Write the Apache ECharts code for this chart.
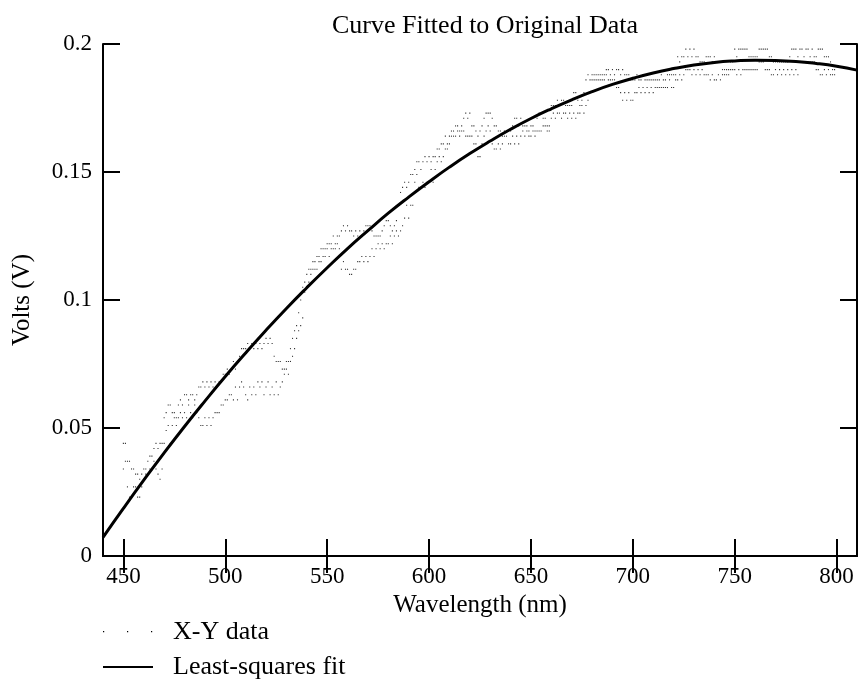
<!DOCTYPE html>
<html>
<head>
<meta charset="utf-8">
<script src="https://cdn.jsdelivr.net/npm/echarts@6/dist/echarts.min.js"></script>
<style>
html, body { margin: 0; padding: 0; background: #fff; }
#chart { width: 863px; height: 689px; }
</style>
</head>
<body>
<div id="chart"></div>
<script>
// measured samples, one per nm starting at firstNm
var firstNm = 450;
var voltsUp = [
	0.044,0.044,0.037,0.037,0.034,0.034,0.032,0.032,0.030,0.032,
	0.034,0.034,0.037,0.039,0.039,0.042,0.044,0.042,0.044,0.044,
	0.054,0.056,0.059,0.059,0.056,0.056,0.054,0.059,0.061,0.059,
	0.063,0.063,0.061,0.063,0.063,0.061,0.063,0.066,0.066,0.068,
	0.066,0.068,0.066,0.068,0.066,0.068,0.066,0.068,0.068,0.071,
	0.071,0.073,0.071,0.073,0.076,0.073,0.076,0.078,0.081,0.081,
	0.081,0.083,0.081,0.083,0.081,0.083,0.081,0.083,0.081,0.083,
	0.085,0.083,0.085,0.083,0.078,0.076,0.076,0.076,0.073,0.073,
	0.076,0.076,0.081,0.085,0.088,0.090,0.095,0.100,0.105,0.107,
	0.110,0.112,0.112,0.115,0.115,0.117,0.117,0.120,0.120,0.120,
	0.122,0.122,0.122,0.125,0.122,0.125,0.125,0.127,0.129,0.127,
	0.129,0.127,0.127,0.125,0.127,0.125,0.127,0.125,0.127,0.129,
	0.129,0.129,0.127,0.125,0.125,0.125,0.125,0.127,0.129,0.131,
	0.131,0.129,0.127,0.129,0.131,0.137,0.142,0.144,0.146,0.144,
	0.146,0.149,0.149,0.151,0.154,0.154,0.151,0.154,0.156,0.154,
	0.156,0.154,0.156,0.156,0.159,0.159,0.161,0.161,0.164,0.161,
	0.164,0.166,0.166,0.168,0.168,0.166,0.168,0.171,0.173,0.171,
	0.173,0.168,0.168,0.166,0.164,0.166,0.168,0.171,0.173,0.173,
	0.173,0.171,0.168,0.168,0.166,0.166,0.164,0.166,0.166,0.166,
	0.166,0.168,0.171,0.171,0.168,0.171,0.168,0.168,0.168,0.166,
	0.168,0.168,0.166,0.171,0.173,0.173,0.171,0.171,0.168,0.168,
	0.176,0.176,0.176,0.178,0.176,0.178,0.178,0.176,0.176,0.176,
	0.176,0.181,0.181,0.178,0.176,0.178,0.181,0.186,0.188,0.186,
	0.188,0.186,0.188,0.188,0.186,0.188,0.188,0.190,0.190,0.188,
	0.190,0.188,0.190,0.190,0.188,0.190,0.188,0.188,0.188,0.186,
	0.186,0.186,0.188,0.186,0.186,0.188,0.186,0.186,0.186,0.186,
	0.186,0.186,0.186,0.186,0.188,0.186,0.186,0.188,0.188,0.188,
	0.188,0.188,0.195,0.193,0.195,0.195,0.198,0.195,0.198,0.195,
	0.198,0.195,0.195,0.193,0.193,0.193,0.195,0.195,0.195,0.193,
	0.195,0.193,0.193,0.193,0.190,0.190,0.190,0.190,0.193,0.193,
	0.198,0.195,0.198,0.198,0.198,0.198,0.198,0.195,0.195,0.195,
	0.195,0.195,0.198,0.198,0.198,0.198,0.198,0.195,0.195,0.193,
	0.193,0.193,0.193,0.193,0.193,0.193,0.193,0.195,0.198,0.198,
	0.198,0.195,0.198,0.198,0.195,0.198,0.198,0.195,0.198,0.195,
	0.195,0.198,0.198,0.198,0.195,0.195,0.195,0.193,0.190,0.190
];
var voltsDown = [
	0.034,0.037,0.027,0.023,0.023,0.027,0.027,0.023,0.023,0.027,
	0.030,0.032,0.032,0.034,0.034,0.037,0.034,0.032,0.030,0.034,
	0.044,0.049,0.051,0.044,0.051,0.054,0.051,0.054,0.056,0.054,
	0.056,0.054,0.059,0.056,0.054,0.059,0.056,0.054,0.051,0.051,
	0.054,0.051,0.054,0.051,0.054,0.056,0.056,0.056,0.059,0.059,
	0.061,0.061,0.063,0.063,0.061,0.066,0.061,0.066,0.068,0.066,
	0.063,0.061,0.066,0.063,0.066,0.063,0.068,0.066,0.068,0.063,
	0.066,0.068,0.063,0.066,0.063,0.068,0.063,0.066,0.068,0.071,
	0.073,0.071,0.076,0.078,0.081,0.085,0.088,0.090,0.093,0.103,
	0.105,0.107,0.110,0.112,0.112,0.112,0.115,0.115,0.117,0.117,
	0.120,0.117,0.120,0.120,0.120,0.122,0.120,0.112,0.115,0.112,
	0.112,0.110,0.110,0.112,0.112,0.115,0.115,0.117,0.115,0.117,
	0.115,0.117,0.120,0.117,0.120,0.122,0.120,0.122,0.120,0.122,
	0.122,0.125,0.122,0.125,0.127,0.125,0.127,0.129,0.132,0.137,
	0.132,0.137,0.137,0.146,0.149,0.144,0.144,0.146,0.144,0.146,
	0.146,0.151,0.146,0.151,0.154,0.156,0.154,0.156,0.159,0.159,
	0.161,0.164,0.164,0.164,0.166,0.164,0.166,0.166,0.164,0.164,
	0.164,0.164,0.161,0.161,0.156,0.156,0.161,0.164,0.166,0.168,
	0.166,0.161,0.159,0.159,0.161,0.159,0.161,0.164,0.164,0.161,
	0.161,0.164,0.161,0.164,0.161,0.164,0.166,0.164,0.166,0.164,
	0.164,0.166,0.164,0.166,0.166,0.166,0.168,0.168,0.166,0.166,
	0.171,0.173,0.171,0.173,0.173,0.171,0.173,0.173,0.171,0.173,
	0.171,0.173,0.171,0.173,0.173,0.176,0.173,0.176,0.178,0.181,
	0.186,0.188,0.186,0.186,0.188,0.186,0.186,0.188,0.186,0.186,
	0.186,0.186,0.183,0.183,0.181,0.178,0.181,0.178,0.181,0.178,
	0.178,0.181,0.181,0.183,0.181,0.183,0.181,0.183,0.181,0.183,
	0.181,0.183,0.183,0.183,0.183,0.183,0.183,0.183,0.186,0.183,
	0.183,0.186,0.186,0.188,0.186,0.188,0.190,0.190,0.190,0.188,
	0.190,0.188,0.190,0.188,0.190,0.188,0.188,0.188,0.186,0.188,
	0.186,0.186,0.188,0.186,0.188,0.188,0.188,0.188,0.190,0.190,
	0.190,0.188,0.190,0.188,0.190,0.190,0.190,0.190,0.190,0.190,
	0.190,0.190,0.193,0.193,0.193,0.190,0.190,0.190,0.188,0.188,
	0.190,0.188,0.190,0.188,0.190,0.188,0.190,0.188,0.190,0.188,
	0.190,0.188,0.193,0.193,0.193,0.193,0.193,0.193,0.193,0.193,
	0.190,0.190,0.188,0.188,0.190,0.188,0.190,0.188,0.188,0.188
];

// least-squares fit, read every 10 nm
var fitNm = [440,450,460,470,480,490,500,510,520,530,540,550,560,570,580,590,600,610,620,
	630,640,650,660,670,680,690,700,710,720,730,740,750,760,770,780,790,800,810];
var fitVolts = [0.0073,0.0186,0.0296,0.0403,0.0506,0.0605,0.0701,0.0793,0.0882,0.0967,
	0.1048,0.1126,0.1201,0.1271,0.1339,0.1402,0.1462,0.1519,0.1572,0.1621,0.1667,0.1709,
	0.1747,0.1782,0.1814,0.1842,0.1866,0.1887,0.1904,0.1918,0.1928,0.1934,0.1937,0.1936,
	0.1932,0.1924,0.1913,0.1898];

var xTicks = [450,500,550,600,650,700,750,800];

var font = '"Liberation Serif", "Times New Roman", serif';

var scatterData = [];
for (var i = 0; i < voltsUp.length; i++) {
	scatterData.push([firstNm + i, voltsUp[i]]);
	scatterData.push([firstNm + i, voltsDown[i]]);
}
var fitData = fitNm.map(function (x, i) { return [x, fitVolts[i]]; });

var axisLine = { lineStyle: { color: '#000', width: 2 } };
var tick = { inside: true, length: 17, lineStyle: { color: '#000', width: 2 } };

var myChart = echarts.init(document.getElementById('chart'));
var option = {
	animation: false,
	backgroundColor: '#fff',
	title: {
		text: 'Curve Fitted to Original Data',
		left: 480, top: 8, textAlign: 'center',
		textStyle: { fontFamily: font, fontSize: 26, fontWeight: 'normal', color: '#000' }
	},
	grid: { left: 103, right: 6, top: 44, bottom: 133 },
	xAxis: [{
		type: 'value', min: 440, max: 810, position: 'bottom',
		name: 'Wavelength (nm)', nameLocation: 'middle', nameGap: 36,
		nameTextStyle: { fontFamily: font, fontSize: 25, color: '#000' },
		axisLine: axisLine,
		axisTick: Object.assign({ customValues: xTicks }, tick),
		axisLabel: { customValues: xTicks, margin: 9, fontFamily: font, fontSize: 23, color: '#000' },
		splitLine: { show: false }
	}, {
		type: 'value', min: 440, max: 810, position: 'top',
		axisLine: axisLine,
		axisTick: Object.assign({ customValues: xTicks }, tick),
		axisLabel: { show: false },
		splitLine: { show: false }
	}],
	yAxis: [{
		type: 'value', min: 0, max: 0.2, interval: 0.05, position: 'left',
		name: 'Volts (V)', nameLocation: 'middle', nameGap: 68,
		nameTextStyle: { fontFamily: font, fontSize: 25, color: '#000' },
		axisLine: axisLine,
		axisTick: tick,
		axisLabel: { margin: 11, fontFamily: font, fontSize: 23, color: '#000' },
		splitLine: { show: false }
	}, {
		type: 'value', min: 0, max: 0.2, interval: 0.05, position: 'right',
		axisLine: axisLine,
		axisTick: tick,
		axisLabel: { show: false },
		splitLine: { show: false }
	}],
	series: [{
		name: 'X-Y data',
		type: 'scatter',
		data: scatterData,
		symbol: 'rect',
		symbolSize: 1.1,
		itemStyle: { color: '#000' },
		silent: true,
		z: 2
	}, {
		name: 'Least-squares fit',
		type: 'line',
		data: fitData,
		smooth: true,
		showSymbol: false,
		lineStyle: { color: '#000', width: 3 },
		silent: true,
		z: 3
	}],
	graphic: [
		{ type: 'rect', shape: { x: 103, y: 631, width: 1.2, height: 1.2 }, style: { fill: '#000' } },
		{ type: 'rect', shape: { x: 127, y: 631, width: 1.2, height: 1.2 }, style: { fill: '#000' } },
		{ type: 'rect', shape: { x: 151, y: 631, width: 1.2, height: 1.2 }, style: { fill: '#000' } },
		{ type: 'text', x: 173, y: 632, style: { text: 'X-Y data', font: '26px ' + font, fill: '#000', verticalAlign: 'middle' } },
		{ type: 'line', shape: { x1: 103, y1: 667, x2: 153, y2: 667 }, style: { stroke: '#000', lineWidth: 2 } },
		{ type: 'text', x: 173, y: 667, style: { text: 'Least-squares fit', font: '26px ' + font, fill: '#000', verticalAlign: 'middle' } }
	]
};
myChart.setOption(option);
</script>
</body>
</html>
